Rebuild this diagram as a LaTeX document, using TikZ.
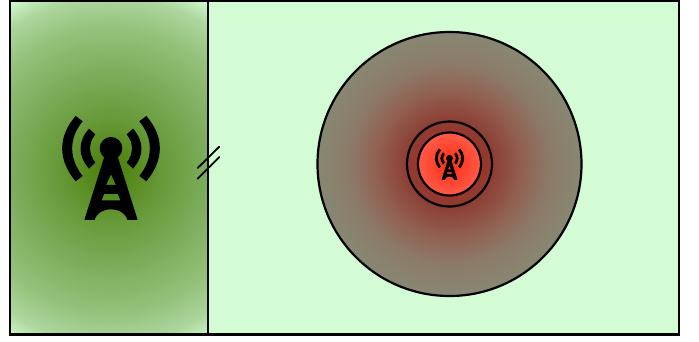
\documentclass[tikz,border=0pt]{standalone}
\definecolor{bgpale}{RGB}{212,252,212}
\pgfdeclareradialshading{leftglow}{\pgfpoint{0bp}{0bp}}{
  rgb(0bp)=(0.29,0.49,0.02);
  rgb(6.5bp)=(0.40,0.60,0.22);
  rgb(12.5bp)=(0.49,0.68,0.36);
  rgb(18bp)=(0.58,0.76,0.48);
  rgb(22bp)=(0.68,0.84,0.62);
  rgb(25bp)=(0.83,0.99,0.83);
  rgb(50bp)=(0.83,0.99,0.83)}
\pgfdeclareradialshading{bigglow}{\pgfpoint{0bp}{0bp}}{
  rgb(0bp)=(0.78,0.10,0.08);
  rgb(8bp)=(0.55,0.24,0.20);
  rgb(14bp)=(0.57,0.38,0.32);
  rgb(19bp)=(0.55,0.48,0.41);
  rgb(25bp)=(0.53,0.53,0.45);
  rgb(50bp)=(0.53,0.53,0.45)}
\pgfdeclareradialshading{coreglow}{\pgfpoint{0bp}{0bp}}{
  rgb(0bp)=(1,0.18,0.06);
  rgb(15bp)=(1,0.28,0.20);
  rgb(25bp)=(1,0.36,0.28);
  rgb(50bp)=(1,0.36,0.28)}
\tikzset{
  outline/.style={draw=black,line width=2.4pt},
  ringline/.style={draw=black,line width=2.2pt},
  breakmark/.style={draw=black,line width=1.8pt,line cap=round},
  pics/towericon/.style={code={
    % coordinates: reference zoom units relative to the icon centre
    \begin{scope}[scale=#1/3]
      \fill[black] (0,0) circle (34);
      \fill[black,even odd rule]
        (-80,215) -- (-20,25) -- (20,25) -- (80,215) -- (49,215)
        .. controls (38,172) and (-38,172) .. (-49,215) -- cycle
        (0,78) -- (15,110) -- (-15,110) -- cycle
        (-21,137) -- (21,137) -- (28,156) -- (-28,156) -- cycle;
      \foreach \s in {1,-1}{
        \fill[black,xscale=\s]
          (-106,-97) .. controls (-160,-35) and (-160,35) .. (-106,99)
          -- (-85,83) .. controls (-127,30) and (-127,-30) .. (-85,-81) -- cycle;
        \fill[black,xscale=\s]
          (-66,-59) .. controls (-100,-20) and (-100,22) .. (-66,61)
          -- (-47,43) .. controls (-68,15) and (-68,-15) .. (-47,-42) -- cycle;
      }
    \end{scope}
  }}
}
\begin{document}
\begin{tikzpicture}[x=1pt,y=-1pt]
  \useasboundingbox (0,0) rectangle (699,341);
  \coordinate (framenw) at (10,1);
  \coordinate (framese) at (679,334.5);
  \coordinate (divtop) at (208,1);
  \coordinate (divbot) at (208,334.5);
  \coordinate (bigc) at (449.5,164);
  \fill[bgpale] (framenw) rectangle (framese);
  \begin{scope}
    \clip (framenw) rectangle (divbot);
    \shade[shading=leftglow] (110,170) circle (197);
  \end{scope}
  \shade[shading=bigglow] (bigc) circle (132);
  \draw[ringline] (bigc) circle (132);
  \draw[ringline] (bigc) circle (42.5);
  \shade[shading=coreglow] (bigc) circle (31.5);
  \draw[ringline] (bigc) circle (31.5);
  \draw[outline] (framenw) rectangle (framese);
  \draw[outline] (divtop) -- (divbot);
  \pic at (111,148.3) {towericon=1};
  \pic at (449.5,158.3) {towericon=0.3};
  \coordinate (b1a) at (197.7,168);
  \coordinate (b1b) at (219.3,146.7);
  \coordinate (b2a) at (197.7,178.7);
  \coordinate (b2b) at (219.3,157);
  \draw[breakmark] (b1a) -- (b1b);
  \draw[breakmark] (b2a) -- (b2b);
\end{tikzpicture}
\end{document}
